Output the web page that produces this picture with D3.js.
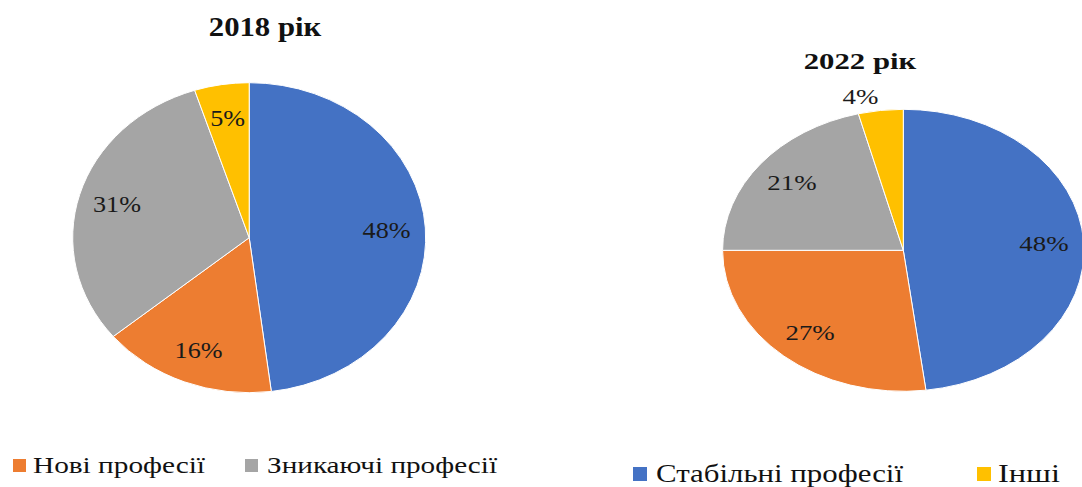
<!DOCTYPE html>
<html><head><meta charset="utf-8">
<script src="https://cdn.jsdelivr.net/npm/d3@7"></script>
<style>html,body{margin:0;padding:0;background:#fff;overflow:hidden}
svg text{font-family:"Liberation Serif","Times New Roman","DejaVu Serif",serif;}</style>
</head><body>
<svg id="c" width="1082" height="487"></svg>
<script>
const categories = ["Стабільні професії", "Нові професії", "Зникаючі професії", "Інші"];
const colors = ["#4472C4", "#ED7D31", "#A5A5A5", "#FFC000"];
const values2018 = [48, 16, 31, 5];
const values2022 = [48, 27, 21, 4];
const titles = ["2018 рік", "2022 рік"];

const svg = d3.select("#c");

const charts = [
  {values: values2018, title: titles[0], cx: 249.2, cy: 237.7, rx: 176.5, ry: 155,
   tx: 265, ty: 36, tsize: 27, lsize: 23},
  {values: values2022, title: titles[1], cx: 903.3, cy: 250.3, rx: 180.7, ry: 141,
   tx: 860, ty: 69, tsize: 24, lsize: 21}
];

const pie = d3.pie().sort(null).value(d => d);

charts.forEach(c => {
  const sx = c.rx / c.ry;
  const r = c.ry;
  const g = svg.append("g").attr("transform", `translate(${c.cx},${c.cy}) scale(${sx},1)`);
  const arc = d3.arc().innerRadius(0).outerRadius(r);
  const labelArc = d3.arc().innerRadius(r * 0.78).outerRadius(r * 0.78);
  const outArc = d3.arc().innerRadius(r * 1.1).outerRadius(r * 1.1);
  const arcs = pie(c.values);
  g.selectAll("path.s").data(arcs).join("path")
    .attr("class", "s")
    .attr("d", arc)
    .attr("fill", (d, i) => colors[i])
    .attr("stroke", "#fff")
    .attr("stroke-width", 1)
    .attr("vector-effect", "non-scaling-stroke");
  g.selectAll("text.l").data(arcs).join("text")
    .attr("class", "l")
    .attr("transform", d => {
      const p = d.data < 5 ? outArc.centroid(d) : labelArc.centroid(d);
      return `translate(${p[0]},${p[1]})`;
    })
    .attr("text-anchor", d => d.data < 5 ? "end" : "middle")
    .attr("dy", "0.35em")
    .attr("font-size", c.lsize)
    .attr("fill", "#1a1a1a")
    .text(d => d.data + "%");
  svg.append("text")
    .attr("transform", `translate(${c.tx},${c.ty}) scale(${sx},1)`)
    .attr("text-anchor", "middle")
    .attr("font-weight", "bold")
    .attr("font-size", c.tsize)
    .attr("fill", "#111")
    .text(c.title);
});

// Legends (as cropped in the reference)
const legendItems = [
  {i: 1, sqx: 13, sqy: 459, sq: 13, tx: 33, ty: 473, w: 172, fs: 24},
  {i: 2, sqx: 245, sqy: 459, sq: 13, tx: 267, ty: 473, w: 230, fs: 24},
  {i: 0, sqx: 633, sqy: 467, sq: 14, tx: 656, ty: 482, w: 247, fs: 25},
  {i: 3, sqx: 977, sqy: 467, sq: 14, tx: 998, ty: 482, w: 62, fs: 25}
];
legendItems.forEach(l => {
  svg.append("rect").attr("x", l.sqx).attr("y", l.sqy).attr("width", l.sq).attr("height", l.sq)
    .attr("fill", colors[l.i]);
  svg.append("text").attr("x", l.tx).attr("y", l.ty)
    .attr("font-size", l.fs).attr("fill", "#111")
    .attr("textLength", l.w).attr("lengthAdjust", "spacingAndGlyphs")
    .text(categories[l.i]);
});
</script>
</body></html>
